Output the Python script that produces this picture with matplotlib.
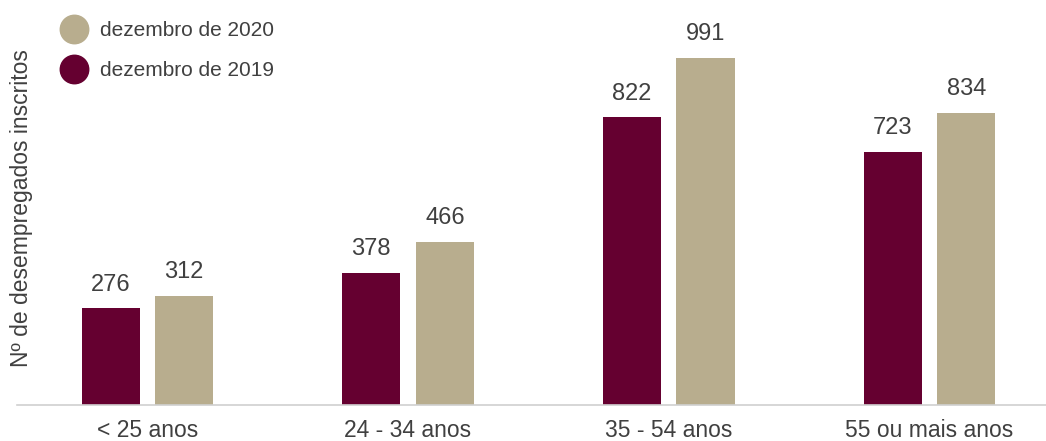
import matplotlib
matplotlib.use("Agg")
import matplotlib.pyplot as plt
from matplotlib.lines import Line2D
import numpy as np

plt.rcParams['font.family'] = ['Liberation Sans', 'DejaVu Sans']

# dados
categorias = ['< 25 anos', '24 - 34 anos', '35 - 54 anos', '55 ou mais anos']
dez2019 = [276, 378, 822, 723]
dez2020 = [312, 466, 991, 834]

cor2019 = '#650030'
cor2020 = '#B8AD8E'
cinza = '#404040'

fig = plt.figure(figsize=(10.46, 4.41), dpi=100)
ax = fig.add_axes([17/1046, 36/441, 1 - 17/1046, 405/441])

x = np.arange(len(categorias))
larg = 0.223
desl = 0.141
b1 = ax.bar(x - desl, dez2019, larg, color=cor2019)
b2 = ax.bar(x + desl, dez2020, larg, color=cor2020)

for barras in (b1, b2):
    for b in barras:
        ax.annotate(str(int(b.get_height())), (b.get_x() + b.get_width()/2, b.get_height()),
                    xytext=(0, 9), textcoords='offset points',
                    ha='center', va='bottom', fontsize=17, color=cinza)

ax.set_xlim(-0.5, 3.447)
ax.set_ylim(0, 1156)
ax.set_xticks(x)
ax.set_xticklabels(categorias, fontsize=16.5, color=cinza)
ax.tick_params(axis='x', length=0, pad=10)
ax.set_yticks([])
for s in ['top', 'right', 'left']:
    ax.spines[s].set_visible(False)
ax.spines['bottom'].set_color('#d0d0d0')
ax.spines['bottom'].set_linewidth(1.2)

fig.text(22/1046, 1 - 208/441, 'Nº de desempregados inscritos', rotation=90,
         ha='center', va='center', fontsize=16.5, color=cinza)

handles = [Line2D([], [], marker='o', ls='', markersize=20.5, color=cor2020),
           Line2D([], [], marker='o', ls='', markersize=20.5, color=cor2019)]
ax.legend(handles, ['dezembro de 2020', 'dezembro de 2019'], loc='upper left',
          bbox_to_anchor=(36/1029, 1 - 21/405), frameon=False, fontsize=15,
          labelcolor=cinza, handlelength=2.0, handletextpad=0.25,
          labelspacing=1.0, borderaxespad=0, borderpad=0)

fig.savefig('out.png', dpi=100)
